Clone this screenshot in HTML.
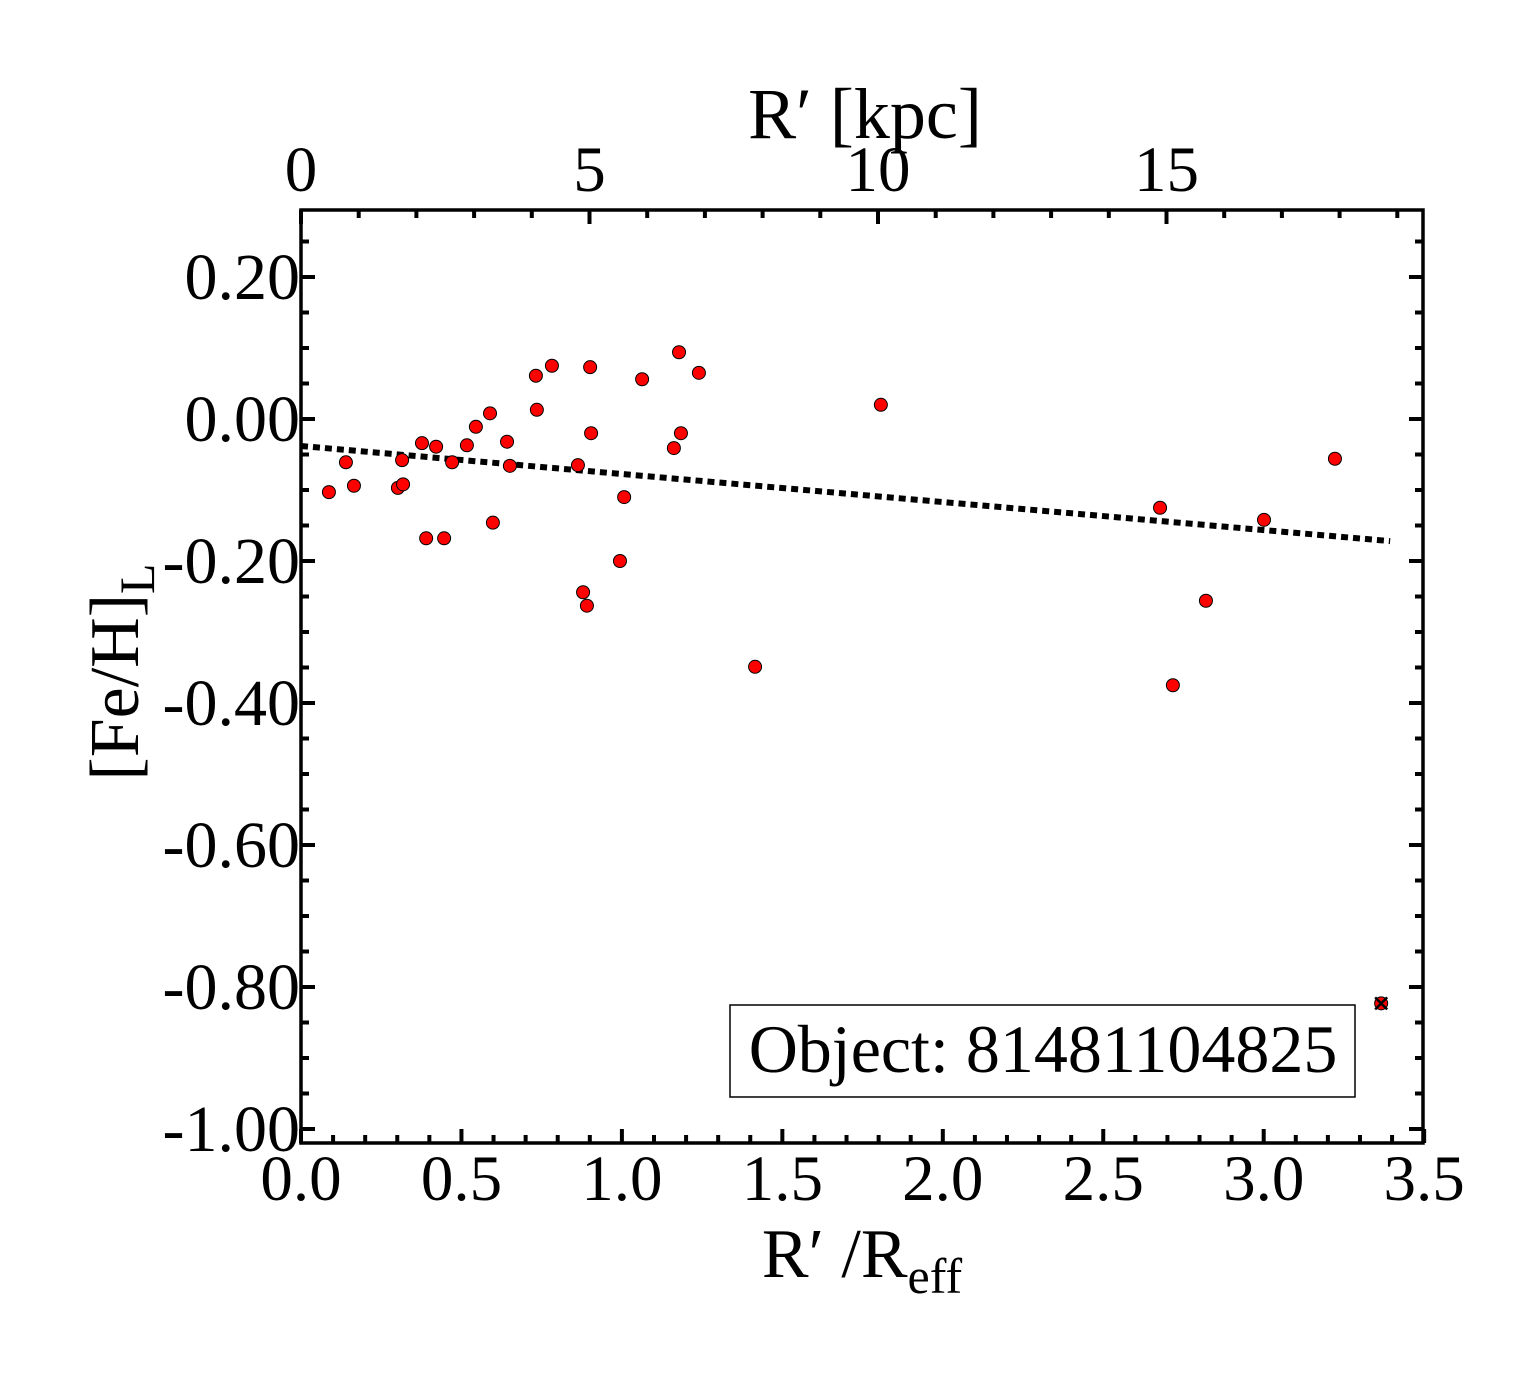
<!DOCTYPE html>
<html><head><meta charset="utf-8"><style>
body{margin:0;background:#fff}
svg{display:block}
text{font-family:"Liberation Serif",serif;fill:#000}
</style></head><body>
<svg id="chart" width="1540" height="1375" viewBox="0 0 1540 1375" xmlns="http://www.w3.org/2000/svg">
<g id="ticks"></g>
<g id="fit"></g>
<g id="pts"></g>
<rect x="301" y="210" width="1122" height="933" fill="none" stroke="#000" stroke-width="3.5"/>
<g>
<rect x="730" y="1005" width="625" height="92" fill="#fff" stroke="#000" stroke-width="1.5"/>
<text x="1043" y="1072" font-size="68" text-anchor="middle">Object: 81481104825</text>
</g>
<text x="862" y="1277" font-size="70" text-anchor="middle">R′ /R<tspan font-size="50" dy="16">eff</tspan></text>
<text x="865" y="138" font-size="72" text-anchor="middle">R′ [kpc]</text>
<text transform="translate(138,672) rotate(-90)" font-size="70" text-anchor="middle">[Fe/H]<tspan font-size="50" dy="16">L</tspan></text>
</svg>
<script>
const xs=[0.087,0.140,0.165,0.302,0.315,0.318,0.377,0.390,0.421,0.446,0.471,0.517,0.545,0.589,0.598,0.642,0.651,0.732,0.735,0.782,0.863,0.879,0.891,0.901,0.904,0.994,1.007,1.063,1.162,1.178,1.184,1.240,1.415,1.807,2.677,2.717,2.820,3.001,3.222];
const ys=[-0.103,-0.061,-0.094,-0.097,-0.058,-0.092,-0.034,-0.168,-0.039,-0.168,-0.061,-0.037,-0.011,0.008,-0.146,-0.032,-0.066,0.061,0.013,0.075,-0.065,-0.244,-0.263,0.073,-0.020,-0.200,-0.110,0.056,-0.041,0.094,-0.020,0.065,-0.349,0.020,-0.125,-0.375,-0.256,-0.142,-0.056];
const excludedX=[3.366], excludedY=[-0.823];
const fitX=[0,3.394], fitY=[-0.038,-0.172];
const xTicks=[0,0.5,1,1.5,2,2.5,3,3.5], xTickLabels=["0.0","0.5","1.0","1.5","2.0","2.5","3.0","3.5"];
const yTicks=[0.2,0,-0.2,-0.4,-0.6,-0.8,-1.0], yTickLabels=["0.20","0.00","-0.20","-0.40","-0.60","-0.80","-1.00"];
const kTicks=[0,5,10,15], kTickLabels=["0","5","10","15"];
const X=v=>301+v*320.9, Y=v=>419-v*710, K=v=>301+v*57.7;
const NS="http://www.w3.org/2000/svg";
function mk(t,a,p){const e=document.createElementNS(NS,t);for(const k in a)e.setAttribute(k,a[k]);p.appendChild(e);return e;}
const T=document.getElementById('ticks');
function ln(x1,y1,x2,y2,w){const l=mk('line',{x1,y1,x2,y2,stroke:'#000','stroke-width':w},T);

}
for(let i=0;i<=35;i++){const v=i/10,x=X(v),maj=i%5==0,L=maj?14:8;ln(x,1143,x,1143-L,4);}
for(let i=0;i<=19;i++){const x=K(i),maj=i%5==0,L=maj?14:8;if(x<1423)ln(x,210,x,210+L,4);}
for(let i=-20;i<=5;i++){const v=i*0.05,y=Y(v);if(y<212||y>1141)continue;const maj=i%4==0,L=maj?14:8;ln(301,y,301+L,y,4);ln(1423,y,1423-L,y,4);}
xTicks.forEach((v,i)=>{const t=mk('text',{x:X(v),y:1200,'font-size':65,'text-anchor':'middle'},T);t.textContent=xTickLabels[i];

});
yTicks.forEach((v,i)=>{const t=mk('text',{x:300,y:Y(v)+22,'font-size':66,'text-anchor':'end'},T);t.textContent=yTickLabels[i];

});
kTicks.forEach((v,i)=>{const t=mk('text',{x:K(v),y:191,'font-size':65,'text-anchor':'middle'},T);t.textContent=kTickLabels[i];

});
const F=document.getElementById('fit');
const fl=mk('line',{x1:X(fitX[0]),y1:Y(fitY[0]),x2:X(fitX[1]),y2:Y(fitY[1]),stroke:'#000','stroke-width':6,'stroke-dasharray':'7,5'},F);


const P=document.getElementById('pts');
xs.forEach((v,i)=>{const c=mk('circle',{cx:X(v),cy:Y(ys[i]),r:6.5,fill:'#ff0000',stroke:'#000','stroke-width':1},P);

});
excludedX.forEach((v,i)=>{const cx=X(v),cy=Y(excludedY[i]);
const g=mk('g',{},P);


mk('circle',{cx,cy,r:6.5,fill:'#ff0000',stroke:'#000','stroke-width':1},g);
mk('path',{d:`M${cx-6},${cy-6}L${cx+6},${cy+6}M${cx-6},${cy+6}L${cx+6},${cy-6}`,stroke:'#000','stroke-width':2.5},g);});
</script>
</body></html>
